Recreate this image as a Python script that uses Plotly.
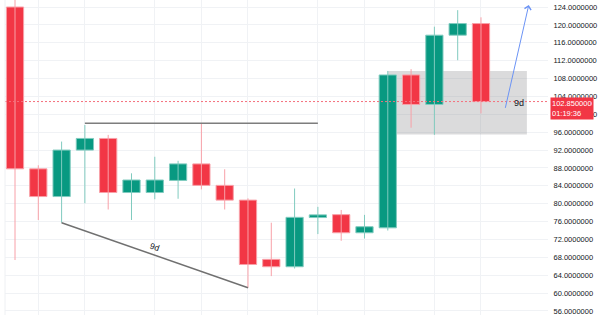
import plotly.graph_objects as go

# ---- data ----
idx = list(range(21))
opens  = [124.0, 87.8, 81.6, 92.0, 94.6, 82.5, 82.5, 85.2, 88.9, 84.1, 80.8, 67.55, 65.9, 76.9, 77.55, 73.5, 74.6, 108.8, 102.2, 117.7, 120.3]
highs  = [127.0, 88.6, 93.9, 97.6, 95.4, 86.8, 90.5, 89.6, 98.0, 87.7, 81.2, 75.75, 83.4, 79.3, 78.6, 77.5, 109.7, 110.1, 119.6, 123.3, 121.7]
lows   = [67.4, 76.35, 75.75, 80.1, 78.7, 76.35, 81.0, 81.1, 83.2, 78.7, 61.2, 63.8, 65.5, 73.2, 71.7, 72.2, 74.0, 97.0, 95.4, 112.1, 100.2]
closes = [87.8, 81.6, 92.0, 94.6, 82.5, 85.3, 85.3, 88.9, 84.1, 80.8, 66.4, 65.9, 76.95, 77.5, 73.5, 74.85, 108.8, 102.2, 117.7, 120.3, 102.85]

last_price = 102.85
countdown = "01:19:36"
y_ticks = [56 + 4 * k for k in range(18)]
x_grid = [1, 3, 6, 8, 10, 13, 15, 18, 20]
x_range = [-0.429, 22.876]
y_range = [55.1, 125.57]

# drawings
hline_pts = ([3, 13], [98.0, 98.0])
diag_pts = ([2, 10], [75.75, 61.2])
diag_label = (6, 70.3, "9d")
box_x = [16, 21.97]
box_y = [95.5, 109.7]
box_label = (21.63, 102.5, "9d")
arrow_from = (21.03, 101.1)
arrow_to = (22.05, 124.45)

GREEN = "#089981"
RED = "#F23645"
GREEN_W = "#80cbbf"
RED_W = "#f8a0a8"

fig = go.Figure()

# wicks
for up, col in ((True, GREEN_W), (False, RED_W)):
    wx, wy = [], []
    for i, o, h, l, c in zip(idx, opens, highs, lows, closes):
        if (c >= o) == up:
            wx += [i, i, None]
            wy += [l, h, None]
    fig.add_trace(go.Scatter(x=wx, y=wy, mode="lines", line=dict(color=col, width=1),
                             hoverinfo="skip", showlegend=False))

# bodies
base = [min(o, c) for o, c in zip(opens, closes)]
height = [abs(c - o) for o, c in zip(opens, closes)]
fill = [GREEN if c >= o else RED for o, c in zip(opens, closes)]
edge = [GREEN_W if c >= o else RED_W for o, c in zip(opens, closes)]
fig.add_trace(go.Bar(x=idx, y=height, base=base, width=0.74,
                     marker=dict(color=fill, line=dict(color=edge, width=1)),
                     hoverinfo="skip", showlegend=False))

# last price line
fig.add_trace(go.Scatter(x=x_range, y=[last_price, last_price], mode="lines",
                         line=dict(color="#f4707c", width=1, dash="2px,2px"),
                         hoverinfo="skip", showlegend=False))

shapes = []
shapes.append(dict(type="rect", xref="x", yref="y", x0=box_x[0], x1=box_x[1], y0=box_y[0], y1=box_y[1],
                   fillcolor="rgba(135,135,140,0.3)", line=dict(width=0), layer="between"))
shapes.append(dict(type="line", xref="x", yref="y", x0=hline_pts[0][0], x1=hline_pts[0][1],
                   y0=hline_pts[1][0], y1=hline_pts[1][1], line=dict(color="#7d7d7d", width=1.5)))
shapes.append(dict(type="line", xref="x", yref="y", x0=diag_pts[0][0], x1=diag_pts[0][1],
                   y0=diag_pts[1][0], y1=diag_pts[1][1], line=dict(color="#707070", width=1.5)))
shapes.append(dict(type="line", xref="paper", yref="paper", x0=0, x1=0, y0=0, y1=1,
                   line=dict(color="#eef0f3", width=1)))
fig.update_layout(shapes=shapes)

ann = []
ann.append(dict(x=diag_label[0], y=diag_label[1], xref="x", yref="y", text=diag_label[2], showarrow=False,
                textangle=19, font=dict(size=8.5, color="#131722", family="Liberation Sans")))
ann.append(dict(x=box_label[0], y=box_label[1], xref="x", yref="y", text=box_label[2], showarrow=False,
                font=dict(size=9, color="#131722", family="Liberation Sans")))
ann.append(dict(x=arrow_to[0], y=arrow_to[1], ax=arrow_from[0], ay=arrow_from[1], xref="x", yref="y",
                axref="x", ayref="y", text="", showarrow=True, arrowhead=4, arrowsize=1.3,
                arrowwidth=1, arrowcolor="#6b93f5"))
ann.append(dict(x=1, y=last_price, xref="paper", yref="y", xanchor="left", yanchor="top", yshift=5, xshift=2,
                text=f"{last_price:.7f}<br>{countdown}", showarrow=False, align="left",
                bgcolor=RED, borderpad=1, width=40,
                font=dict(size=7.5, color="white", family="Liberation Sans")))
fig.update_layout(annotations=ann)

fig.update_layout(
    width=600, height=315,
    margin=dict(l=5, r=52, t=0, b=0),
    paper_bgcolor="white", plot_bgcolor="white",
    barmode="overlay",
    xaxis=dict(range=x_range, showticklabels=False,
               tickvals=x_grid, showgrid=True, gridcolor="#f0f2f5", gridwidth=1, zeroline=False,
               showline=False, ticks=""),
    yaxis=dict(range=y_range, side="right", tickvals=y_ticks,
               ticktext=[f"{v:.7f}" for v in y_ticks], showgrid=True, gridcolor="#f0f2f5",
               zeroline=False, ticks="outside", ticklen=3, tickcolor="rgba(0,0,0,0)",
               ticklabeloverflow="allow",
               tickfont=dict(size=7.5, color="#131722", family="Liberation Sans")),
    hovermode=False,
)

fig.write_html("out.html")
